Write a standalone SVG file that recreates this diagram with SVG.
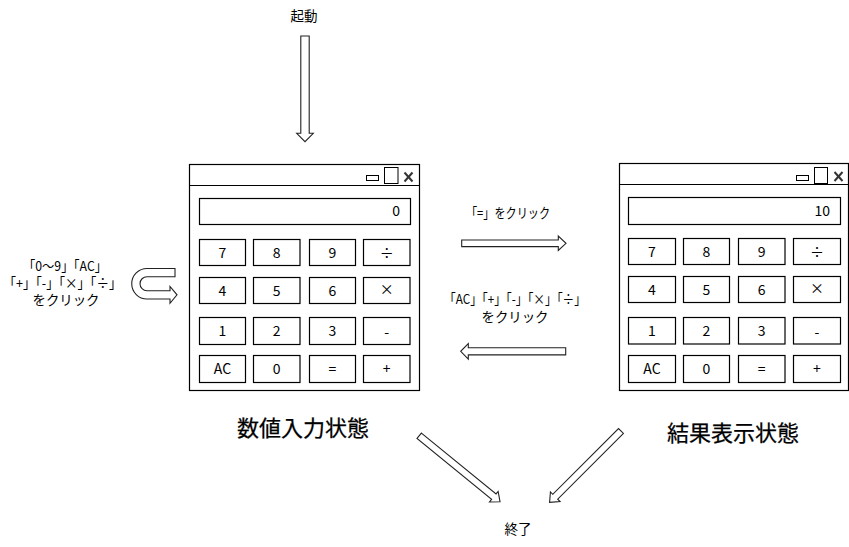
<svg xmlns="http://www.w3.org/2000/svg" width="849" height="547" viewBox="0 0 849 547">
<style>
text{font-family:"Noto Sans CJK JP","Noto Sans",sans-serif;fill:#000;}
.win{fill:#fff;stroke:#000;stroke-width:1.2;}
.btn{fill:#fff;stroke:#000;stroke-width:1.2;}
.bt{font-size:14px;text-anchor:middle;}
.lbl{font-size:13.5px;text-anchor:middle;}
.title{font-size:22px;text-anchor:middle;stroke:#000;stroke-width:0.25;}
.arrow{fill:#fff;stroke:#222;stroke-width:1.1;stroke-linejoin:miter;}
.xic{stroke:#333;stroke-width:2;}
</style>
<rect width="849" height="547" fill="#fff"/>

<g id="start">
<text class="lbl" x="304" y="21">起動</text>
</g>

<g id="input-state">
<rect class="win" x="189.5" y="164.5" width="230" height="226"/>
<line x1="189.5" y1="185.5" x2="419.5" y2="185.5" stroke="#000" stroke-width="1.2"/>
<rect x="366.5" y="175.5" width="12" height="5" fill="none" stroke="#000"/>
<rect x="384.5" y="167.5" width="13.5" height="16" fill="none" stroke="#000"/>
<line class="xic" x1="404.5" y1="172.5" x2="412.5" y2="181.5"/>
<line class="xic" x1="412.5" y1="172.5" x2="404.5" y2="181.5"/>
<rect class="btn" x="199.5" y="198.5" width="211" height="26"/>
<text x="400" y="216" font-size="14" text-anchor="end">0</text>
<rect class="btn" x="199.5" y="239.5" width="46" height="26"/>
<rect class="btn" x="253.5" y="239.5" width="46.5" height="26"/>
<rect class="btn" x="309.5" y="239.5" width="46" height="26"/>
<rect class="btn" x="363.5" y="239.5" width="46.5" height="26"/>
<rect class="btn" x="199.5" y="277.5" width="46" height="26"/>
<rect class="btn" x="253.5" y="277.5" width="46.5" height="26"/>
<rect class="btn" x="309.5" y="277.5" width="46" height="26"/>
<rect class="btn" x="363.5" y="277.5" width="46.5" height="26"/>
<rect class="btn" x="199.5" y="317.5" width="46" height="27"/>
<rect class="btn" x="253.5" y="317.5" width="46.5" height="27"/>
<rect class="btn" x="309.5" y="317.5" width="46" height="27"/>
<rect class="btn" x="363.5" y="317.5" width="46.5" height="27"/>
<rect class="btn" x="199.5" y="355.5" width="46" height="27"/>
<rect class="btn" x="253.5" y="355.5" width="46.5" height="27"/>
<rect class="btn" x="309.5" y="355.5" width="46" height="27"/>
<rect class="btn" x="363.5" y="355.5" width="46.5" height="27"/>
<text class="bt" x="222.5" y="257.5">7</text>
<text class="bt" x="276.7" y="257.5">8</text>
<text class="bt" x="332.5" y="257.5">9</text>
<text class="bt" x="386.7" y="257.5">÷</text>
<text class="bt" x="222.5" y="295.5">4</text>
<text class="bt" x="276.7" y="295.5">5</text>
<text class="bt" x="332.5" y="295.5">6</text>
<text class="bt" x="386.7" y="294">×</text>
<text class="bt" x="222.5" y="336">1</text>
<text class="bt" x="276.7" y="336">2</text>
<text class="bt" x="332.5" y="336">3</text>
<text class="bt" x="386.7" y="337">-</text>
<text class="bt" x="222.5" y="374">AC</text>
<text class="bt" x="276.7" y="374">0</text>
<text class="bt" x="332.5" y="374">=</text>
<text class="bt" x="386.7" y="374">+</text>
<text class="title" x="303" y="436">数値入力状態</text>
</g>

<g id="result-state">
<rect class="win" x="619.5" y="163.5" width="229" height="227"/>
<line x1="619.5" y1="184.5" x2="848.5" y2="184.5" stroke="#000" stroke-width="1.2"/>
<rect x="796.5" y="175.5" width="12" height="5" fill="none" stroke="#000"/>
<rect x="814.5" y="167.5" width="13" height="16" fill="none" stroke="#000"/>
<line class="xic" x1="834.5" y1="172" x2="842.5" y2="181"/>
<line class="xic" x1="842.5" y1="172" x2="834.5" y2="181"/>
<rect class="btn" x="628.5" y="197.5" width="212" height="27"/>
<text x="830" y="216" font-size="14" text-anchor="end">10</text>
<rect class="btn" x="628.5" y="238.5" width="47" height="26"/>
<rect class="btn" x="683.5" y="238.5" width="46" height="26"/>
<rect class="btn" x="738.5" y="238.5" width="46.5" height="26"/>
<rect class="btn" x="793.5" y="238.5" width="47" height="26"/>
<rect class="btn" x="628.5" y="276.5" width="47" height="26"/>
<rect class="btn" x="683.5" y="276.5" width="46" height="26"/>
<rect class="btn" x="738.5" y="276.5" width="46.5" height="26"/>
<rect class="btn" x="793.5" y="276.5" width="47" height="26"/>
<rect class="btn" x="628.5" y="317.5" width="47" height="26.5"/>
<rect class="btn" x="683.5" y="317.5" width="46" height="26.5"/>
<rect class="btn" x="738.5" y="317.5" width="46.5" height="26.5"/>
<rect class="btn" x="793.5" y="317.5" width="47" height="26.5"/>
<rect class="btn" x="628.5" y="355.5" width="47" height="27"/>
<rect class="btn" x="683.5" y="355.5" width="46" height="27"/>
<rect class="btn" x="738.5" y="355.5" width="46.5" height="27"/>
<rect class="btn" x="793.5" y="355.5" width="47" height="27"/>
<text class="bt" x="652" y="256.5">7</text>
<text class="bt" x="706.5" y="256.5">8</text>
<text class="bt" x="761.7" y="256.5">9</text>
<text class="bt" x="817" y="256.5">÷</text>
<text class="bt" x="652" y="294.5">4</text>
<text class="bt" x="706.5" y="294.5">5</text>
<text class="bt" x="761.7" y="294.5">6</text>
<text class="bt" x="817" y="293">×</text>
<text class="bt" x="652" y="336">1</text>
<text class="bt" x="706.5" y="336">2</text>
<text class="bt" x="761.7" y="336">3</text>
<text class="bt" x="817" y="337">-</text>
<text class="bt" x="652" y="374">AC</text>
<text class="bt" x="706.5" y="374">0</text>
<text class="bt" x="761.7" y="374">=</text>
<text class="bt" x="817" y="374">+</text>
<text class="title" x="733" y="441">結果表示状態</text>
</g>

<g id="end">
<text class="lbl" x="518" y="534">終了</text>
</g>

<g id="connectors">
<!-- start -> input -->
<path class="arrow" transform="translate(305,36) rotate(90)" d="M0,-4.2 H97.3 V-8.3 L105.7,0 L97.3,8.3 V4.2 H0 Z"/>
<!-- self loop -->
<path class="arrow" d="M175,268.5 L147,268.5 A15.25,15.25 0 0 0 147,299 L170,299 L170,303.3 L177,294.8 L170,286.5 L170,290.7 L147,290.7 A7,7 0 0 1 147,276.7 L175,276.7 Z"/>
<text class="lbl"><tspan x="65" y="271" textLength="84" lengthAdjust="spacingAndGlyphs">「0～9」「AC」</tspan><tspan x="62.5" y="288" textLength="118" lengthAdjust="spacingAndGlyphs">「+」「-」「×」「÷」</tspan><tspan x="66" y="305" textLength="67" lengthAdjust="spacingAndGlyphs">をクリック</tspan></text>
<!-- input -> result -->
<path class="arrow" transform="translate(461.7,243.3)" d="M0,-3.35 H96.6 V-7.2 L104.3,0 L96.6,7.2 V3.35 H0 Z"/>
<text class="lbl" x="508" y="218" textLength="84" lengthAdjust="spacingAndGlyphs">「=」をクリック</text>
<!-- result -> input -->
<path class="arrow" transform="translate(565.7,351.3) rotate(180)" d="M0,-3.6 H97.4 V-7.8 L105,0 L97.4,7.8 V3.6 H0 Z"/>
<text class="lbl"><tspan x="515" y="304" textLength="142" lengthAdjust="spacingAndGlyphs">「AC」「+」「-」「×」「÷」</tspan><tspan x="515" y="322" textLength="67" lengthAdjust="spacingAndGlyphs">をクリック</tspan></text>
<!-- input -> end -->
<path class="arrow" transform="translate(419.2,435.8) rotate(39.2)" d="M0,-3.5 H96.3 V-6.8 L104.3,0 L96.3,6.8 V3.5 H0 Z"/>
<!-- result -> end -->
<path class="arrow" transform="translate(621,431) rotate(135)" d="M0,-3.5 H93 V-6.8 L101,0 L93,6.8 V3.5 H0 Z"/>
</g>
</svg>
